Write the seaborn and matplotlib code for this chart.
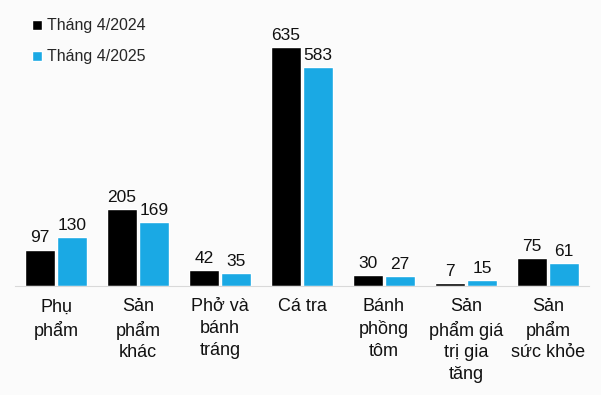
import pandas as pd
import matplotlib.pyplot as plt
import seaborn as sns

# data
categories = ['Phụ\nphẩm', 'Sản\nphẩm\nkhác', 'Phở và\nbánh\ntráng', 'Cá tra',
              'Bánh\nphồng\ntôm', 'Sản\nphẩm giá\ntrị gia\ntăng', 'Sản\nphẩm\nsức khỏe']
values_2024 = [97, 205, 42, 635, 30, 7, 75]
values_2025 = [130, 169, 35, 583, 27, 15, 61]
series = ['Tháng 4/2024', 'Tháng 4/2025']
colors = ['#000000', '#1AA9E4']

df = pd.DataFrame({
    'cat': categories * 2,
    'value': values_2024 + values_2025,
    'series': [series[0]] * len(categories) + [series[1]] * len(categories),
})

sns.set_style('white')
plt.rcParams['font.family'] = ['Liberation Sans', 'DejaVu Sans']

fig = plt.figure(figsize=(6.01, 3.95), dpi=100, facecolor='#FBFBFB')
ax = fig.add_axes([0.025, 0.276, 0.955, 0.666])
ax.set_facecolor('#FBFBFB')

sns.barplot(data=df, x='cat', y='value', hue='series', palette=colors,
            width=0.78, gap=0.05, ax=ax, saturation=1)

for container in ax.containers:
    ax.bar_label(container, fmt='%d', padding=3, fontsize=12.5, color='#111111')

ax.set_ylim(0, 700)
ax.set_xlim(-0.5, 6.5)
ax.set_xlabel('')
ax.set_ylabel('')
ax.set_yticks([])
for s in ['top', 'right', 'left']:
    ax.spines[s].set_visible(False)
ax.spines['bottom'].set_color('#D9D9D9')
ax.tick_params(axis='x', length=0, pad=9, labelsize=13, labelcolor='#111111')
for lbl in ax.get_xticklabels():
    lbl.set_verticalalignment('top')
    lbl.set_linespacing(1.35)

ax.legend(loc='upper left', bbox_to_anchor=(0.035, 0.982), bbox_transform=fig.transFigure,
          frameon=False, fontsize=11.5, handlelength=0.6, handleheight=0.6,
          handletextpad=0.3, labelspacing=1.0, borderaxespad=0.3)

fig.savefig('out.png', dpi=100, facecolor=fig.get_facecolor())
